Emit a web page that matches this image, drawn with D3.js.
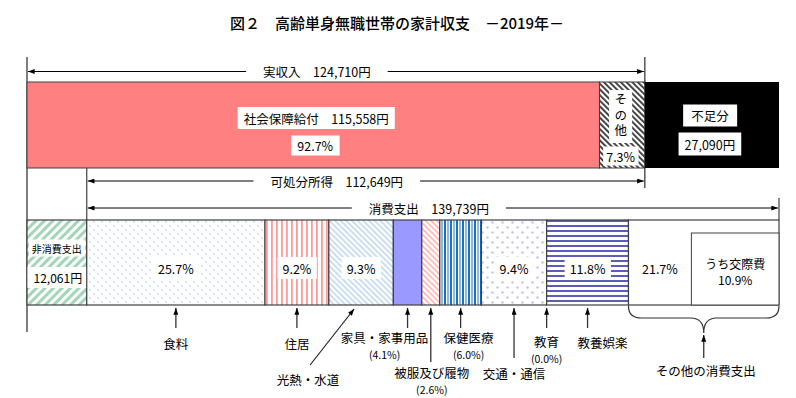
<!DOCTYPE html>
<html>
<head>
<meta charset="utf-8">
<script src="https://cdn.jsdelivr.net/npm/d3@7"></script>
<style>
  body { margin: 0; background: #fff; }
  svg { display: block; }
  text { font-family: 'Noto Sans CJK JP', 'Noto Sans CJK SC', sans-serif; fill: #000; }
</style>
</head>
<body>
<svg id="chart" width="796" height="398"></svg>
<script>
// ---- data ----
var title = "図２　高齢単身無職世帯の家計収支　－2019年－";
var incomeNames = ["社会保障給付", "その他"];
var incomeValues = [115558, 9152];
var incomeShares = [92.7, 7.3];
var actualIncome = 124710;
var disposableIncome = 112649;
var shortfall = 27090;
var nonConsumption = 12061;
var consumption = 139739;
var categories = ["食料", "住居", "光熱・水道", "家具・家事用品", "被服及び履物", "保健医療", "交通・通信", "教育", "教養娯楽", "その他の消費支出"];
var shares = [25.7, 9.2, 9.3, 4.1, 2.6, 6.0, 9.4, 0.0, 11.8, 21.7];
var socialName = "うち交際費";
var socialShare = 10.9;

// ---- styles / layout ----
var catFills = ["url(#pFood)", "url(#pHouse)", "url(#pUtil)", "#9999ff", "url(#pCloth)", "url(#pHealth)", "url(#pTrans)", "#fff", "url(#pCult)", "#fff"];
// label layout under the bar: tail = arrow start y, lx = label offset from segment centre, ly = label y
var catLayout = [
  { tail: 328, lx: 0, ly: 343 },
  { tail: 328, lx: 0, ly: 343 },
  { tail: 365, lx: -53, ly: 379, slant: true },
  { tail: 328, lx: -23, ly: 337 },
  { tail: 362, lx: 1, ly: 372 },
  { tail: 328, lx: 8, ly: 337 },
  { tail: 358, lx: 0, ly: 373 },
  { tail: 328, lx: 0, ly: 341 },
  { tail: 328, lx: 15, ly: 342 },
  { tail: 358, lx: 2, ly: 370, brace: true }
];

var topBar = { y0: 82, y1: 168 };
var botBar = { y0: 220, y1: 305 };
var lineCol = "#404040";

var svg = d3.select("#chart");
var defs = svg.append("defs");

defs.append("marker").attr("id", "arrow")
  .attr("viewBox", "0 0 8 6").attr("refX", 8).attr("refY", 3)
  .attr("markerWidth", 7).attr("markerHeight", 5)
  .attr("markerUnits", "userSpaceOnUse").attr("orient", "auto")
  .append("path").attr("d", "M0,0L8,3L0,6Z").attr("fill", "#000");

function pattern(id, w, h, rot) {
  var p = defs.append("pattern").attr("id", id)
    .attr("patternUnits", "userSpaceOnUse").attr("width", w).attr("height", h);
  if (rot) p.attr("patternTransform", "rotate(" + rot + ")");
  p.append("rect").attr("width", w).attr("height", h).attr("fill", "#fff");
  return p;
}
pattern("pNon", 6, 6, 45).append("rect").attr("width", 3).attr("height", 6).attr("fill", "#a3d5b9");
pattern("pOther", 4, 4, -45).append("rect").attr("width", 1.8).attr("height", 4).attr("fill", "#333");
var pf = pattern("pFood", 8, 8);
pf.append("circle").attr("cx", 2).attr("cy", 2).attr("r", 0.9).attr("fill", "#c4d7f0");
pf.append("circle").attr("cx", 6).attr("cy", 6).attr("r", 0.9).attr("fill", "#c4d7f0");
pattern("pHouse", 5, 5).append("rect").attr("x", 1).attr("width", 1.8).attr("height", 5).attr("fill", "#ff9a9a");
pattern("pUtil", 4, 4, -45).append("rect").attr("width", 1.6).attr("height", 4).attr("fill", "#bdd7ee");
pattern("pCloth", 4, 4, -45).append("rect").attr("width", 1.6).attr("height", 4).attr("fill", "#ffb0b0");
var ph = pattern("pHealth", 6, 6);
ph.append("rect").attr("x", 0).attr("width", 2).attr("height", 6).attr("fill", "#1f6fc4");
ph.append("rect").attr("x", 3).attr("width", 2).attr("height", 6).attr("fill", "#8dbbe8");
var pt = pattern("pTrans", 10, 10);
pt.append("circle").attr("cx", 2.5).attr("cy", 2.5).attr("r", 1.3).attr("fill", "#c6c6f0");
pt.append("circle").attr("cx", 7.5).attr("cy", 7.5).attr("r", 1.3).attr("fill", "#c6c6f0");
pattern("pCult", 5, 5).append("rect").attr("width", 5).attr("height", 2).attr("fill", "#5c5cbd");

// ---- scales ----
var x = d3.scaleLinear().domain([0, nonConsumption + consumption]).range([27, 779]);
var xc = d3.scaleLinear().domain([0, d3.sum(shares)])
  .range([x(nonConsumption), x(nonConsumption + consumption)]);

function label(g, cx, cy, str, size, box, padX, padY) {
  var t = g.append("text").attr("x", cx).attr("y", cy)
    .attr("text-anchor", "middle").attr("dominant-baseline", "central")
    .style("font-size", size + "px").text(str);
  if (box) {
    var b = t.node().getBBox();
    g.insert("rect", function () { return t.node(); })
      .attr("x", b.x - padX).attr("y", b.y - padY)
      .attr("width", b.width + 2 * padX).attr("height", b.height + 2 * padY)
      .attr("fill", "#fff");
  }
  return t;
}

function line(x1, y1, x2, y2, col, w, arrow) {
  var l = svg.append("line").attr("x1", x1).attr("y1", y1).attr("x2", x2).attr("y2", y2)
    .attr("stroke", col).attr("stroke-width", w);
  if (arrow) l.attr("marker-end", "url(#arrow)");
  return l;
}

function spanArrow(y, x0, x1, str, shift) {
  var t = label(svg, (x0 + x1) / 2 + shift, y, str, 12.5, false);
  var b = t.node().getBBox();
  line(b.x - 17, y, x0 + 1, y, "#000", 1, true);
  line(b.x + b.width + 17, y, x1 - 1, y, "#000", 1, true);
}

// ---- title ----
svg.append("text").attr("x", 397).attr("y", 22)
  .attr("text-anchor", "middle").attr("dominant-baseline", "central")
  .style("font-size", "15px").style("font-weight", "500").text(title);

// ---- frame lines ----
line(x(0), 57, x(0), 332, "#555", 1.5);
line(x(actualIncome), 57, x(actualIncome), 188, "#555", 1.5);
line(x(nonConsumption), topBar.y1, x(nonConsumption), botBar.y0, lineCol, 1.2);
line(x(nonConsumption + consumption), 198, x(nonConsumption + consumption), botBar.y0, lineCol, 1.2);

// ---- top bar: income ----
var gTop = svg.append("g");
var incCum = d3.cumsum(incomeValues);
var topFills = ["#ff8080", "url(#pOther)"];
incomeValues.forEach(function (v, i) {
  gTop.append("rect")
    .attr("x", x(incCum[i] - v)).attr("y", topBar.y0)
    .attr("width", x(incCum[i]) - x(incCum[i] - v)).attr("height", topBar.y1 - topBar.y0)
    .attr("fill", topFills[i]).attr("stroke", lineCol).attr("stroke-width", 1);
});
gTop.append("rect")
  .attr("x", x(actualIncome)).attr("y", topBar.y0)
  .attr("width", x(actualIncome + shortfall) - x(actualIncome)).attr("height", topBar.y1 - topBar.y0)
  .attr("fill", "#000");

var sx = (x(0) + x(incomeValues[0])) / 2 + 3;
label(gTop, sx, 118, incomeNames[0] + "　" + d3.format(",")(incomeValues[0]) + "円", 12.5, true, 6, 1.5);
label(gTop, sx - 1, 145.5, incomeShares[0] + "%", 12.5, true, 6, 0.5);

var ox = (x(incCum[0]) + x(incCum[1])) / 2 - 1.5;
gTop.append("rect").attr("x", ox - 11.5).attr("y", 90).attr("width", 23).attr("height", 53).attr("fill", "#fff");
gTop.append("text").attr("x", ox).attr("y", 116.5)
  .attr("text-anchor", "middle")
  .style("writing-mode", "vertical-rl").style("letter-spacing", "3px")
  .style("font-size", "12.5px").text(incomeNames[1]);
label(gTop, ox, 156, incomeShares[1].toFixed(1) + "%", 12.5, true, 3, 0);

var bx = (x(actualIncome) + x(actualIncome + shortfall)) / 2 - 2;
label(gTop, bx, 115.5, "不足分", 12.5, true, 8, 1.5);
label(gTop, bx, 144, d3.format(",")(shortfall) + "円", 12.5, true, 6, 2);

// ---- span arrows ----
spanArrow(71.5, x(0), x(actualIncome), "実収入　" + d3.format(",")(actualIncome) + "円", -19);
spanArrow(181, x(nonConsumption), x(actualIncome), "可処分所得　" + d3.format(",")(disposableIncome) + "円", -29);
spanArrow(208, x(nonConsumption), x(nonConsumption + consumption), "消費支出　" + d3.format(",")(consumption) + "円", -4);

// ---- bottom bar: expenditure ----
var gBot = svg.append("g");
gBot.append("rect")
  .attr("x", x(0)).attr("y", botBar.y0)
  .attr("width", x(nonConsumption) - x(0)).attr("height", botBar.y1 - botBar.y0)
  .attr("fill", "url(#pNon)").attr("stroke", lineCol).attr("stroke-width", 1.2);
var nx = (x(0) + x(nonConsumption)) / 2;
label(gBot, nx, 248, "非消費支出", 10, true, 3, 1);
label(gBot, nx + 1, 277.5, d3.format(",")(nonConsumption) + "円", 12, true, 6, 2);

var cum = d3.cumsum(shares);
var segs = shares.map(function (s, i) {
  return { name: categories[i], share: s, x0: xc(cum[i] - s), x1: xc(cum[i]), fill: catFills[i], lay: catLayout[i] };
});

gBot.selectAll("rect.seg").data(segs).join("rect").attr("class", "seg")
  .attr("x", function (d) { return d.x0; }).attr("y", botBar.y0)
  .attr("width", function (d) { return d.x1 - d.x0; }).attr("height", botBar.y1 - botBar.y0)
  .attr("fill", function (d) { return d.fill; })
  .attr("stroke", lineCol).attr("stroke-width", 1.2);

// social expense sub-box inside the last segment
var last = segs[segs.length - 1];
var sbx0 = last.x1 - (xc(socialShare) - xc(0)) - 12;
gBot.append("rect").attr("x", sbx0).attr("y", 233)
  .attr("width", last.x1 - sbx0).attr("height", botBar.y1 - 233)
  .attr("fill", "#fff").attr("stroke", lineCol).attr("stroke-width", 1);
label(gBot, (sbx0 + last.x1) / 2, 263, socialName, 12, false);
label(gBot, (sbx0 + last.x1) / 2, 279.5, socialShare.toFixed(1) + "%", 12, false);

// shares inside / outside
segs.forEach(function (d, i) {
  var cx = (d.x0 + d.x1) / 2;
  var inside = d.share >= 9;
  if (inside) {
    var ix = d.lay.brace ? (d.x0 + sbx0) / 2 : cx;
    label(gBot, ix, 268, d.share.toFixed(1) + "%", 12.5, !d.lay.brace, 5, 1.5);
  }
  var L = d.lay;
  if (L.brace) {
    var m = cx, by = 318, tip = 333;
    gBot.append("path")
      .attr("d", "M" + d.x0 + "," + (botBar.y1 + 1) + " Q" + d.x0 + "," + by + " " + (d.x0 + 13) + "," + by +
        " L" + (m - 13) + "," + by + " Q" + m + "," + by + " " + m + "," + tip +
        " Q" + m + "," + by + " " + (m + 13) + "," + by +
        " L" + (d.x1 - 13) + "," + by + " Q" + d.x1 + "," + by + " " + d.x1 + "," + (botBar.y1 + 1))
      .attr("fill", "none").attr("stroke", "#333").attr("stroke-width", 1.2);
    line(m, L.tail, m, tip + 2, "#333", 1.3, true);
  } else if (L.slant) {
    line(cx + L.lx + 2, L.tail, cx - 7, botBar.y1 + 4, "#222", 1.2, true);
  } else {
    line(cx, L.tail, cx, botBar.y1 + 3, "#333", 1.3, true);
  }
  label(svg, cx + L.lx, L.ly, d.name, 12.5, false);
  if (!inside) {
    label(svg, cx + L.lx, L.ly + 17.2, "(" + d.share.toFixed(1) + "%)", 10.5, false);
  }
});
</script>
</body>
</html>
